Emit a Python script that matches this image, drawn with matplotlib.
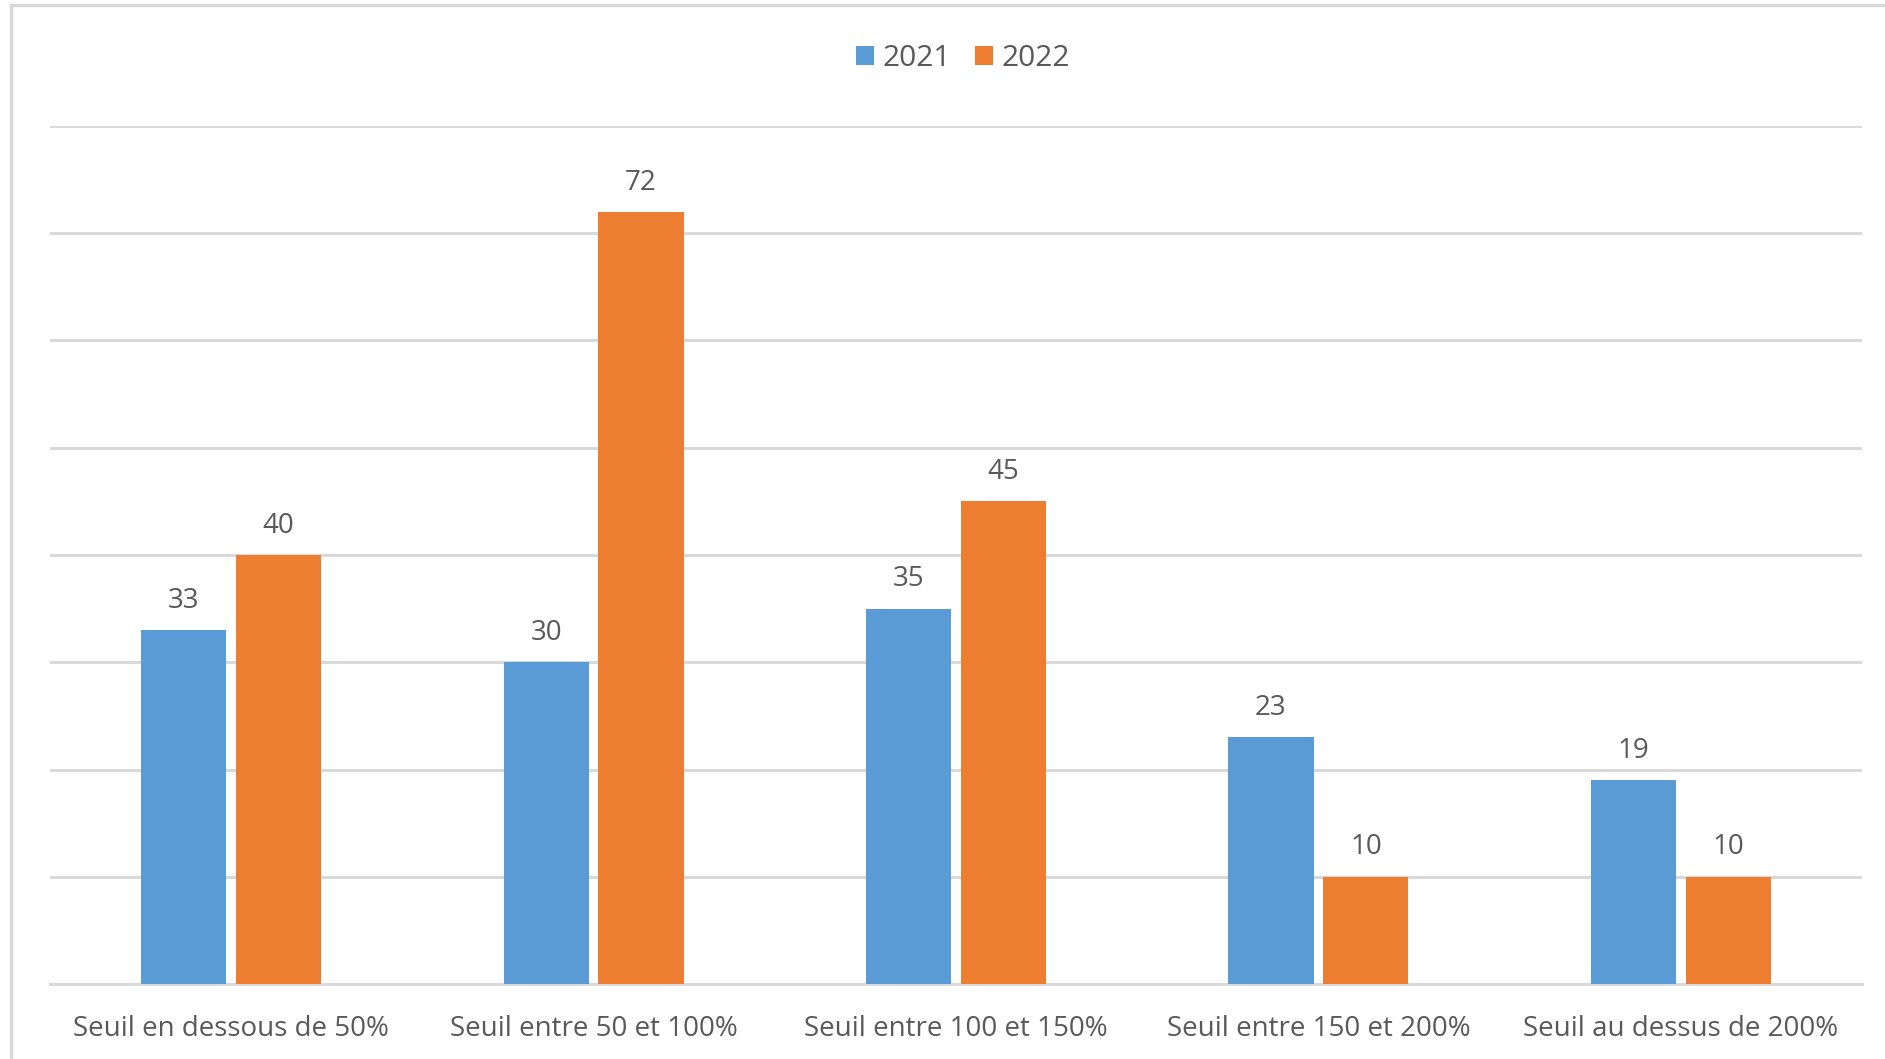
import matplotlib
matplotlib.use("Agg")
import matplotlib.pyplot as plt
import numpy as np
from matplotlib.patches import Rectangle

categories = ["Seuil en dessous de 50%", "Seuil entre 50 et 100%", "Seuil entre 100 et 150%",
              "Seuil entre 150 et 200%", "Seuil au dessus de 200%"]
series_names = ["2021", "2022"]
values_2021 = [33, 30, 35, 23, 19]
values_2022 = [40, 72, 45, 10, 10]

c2021 = "#5B9BD5"
c2022 = "#ED7D31"
txt = "#595959"
grid = "#D9D9D9"

plt.rcParams['font.family'] = ['Open Sans', 'DejaVu Sans']
FS = 20

W, H = 1885, 1059
fig = plt.figure(figsize=(W/100, H/100), dpi=100)
fig.patches.append(Rectangle((11/W, -0.1), 2.0, 1.0 - 5/H + 0.1, transform=fig.transFigure,
                             fill=False, edgecolor="#D9D9D9", linewidth=2.5))

ax = fig.add_axes([50/W, 1 - 984/H, (1862-50)/W, (984-126)/H])
x = np.arange(len(categories))
bw = 0.235
off = 0.131
b1 = ax.bar(x - off, values_2021, bw, color=c2021, label=series_names[0], zorder=3)
b2 = ax.bar(x + off, values_2022, bw, color=c2022, label=series_names[1], zorder=3)
for bars in (b1, b2):
    for r in bars:
        ax.annotate(f"{int(r.get_height())}", (r.get_x() + r.get_width()/2, r.get_height()),
                    xytext=(0, 11), textcoords="offset points", ha="center", va="bottom",
                    fontsize=FS, color=txt)

ax.set_xlim(-0.5, len(categories) - 0.5)
ax.set_ylim(0, 80)
ax.set_yticks(np.arange(0, 81, 10))
ax.yaxis.grid(True, color=grid, linewidth=2.2, zorder=0)
ax.tick_params(axis='y', left=False, labelleft=False)
ax.tick_params(axis='x', length=0, pad=22, labelsize=FS, labelcolor=txt)
ax.set_xticks(x)
ax.set_xticklabels(categories)
for s in ("top", "right", "left"):
    ax.spines[s].set_visible(False)
ax.spines["bottom"].set_color(grid)
ax.spines["bottom"].set_linewidth(2.2)

fig.legend(handles=[b1, b2], loc="center", bbox_to_anchor=(963/W, 1 - 59/H), ncol=2, frameon=False,
           fontsize=21.5, labelcolor=txt, handlelength=0.6, handleheight=0.6, handletextpad=0.3,
           columnspacing=0.8)

fig.savefig("out.png", dpi=100, facecolor="white")
